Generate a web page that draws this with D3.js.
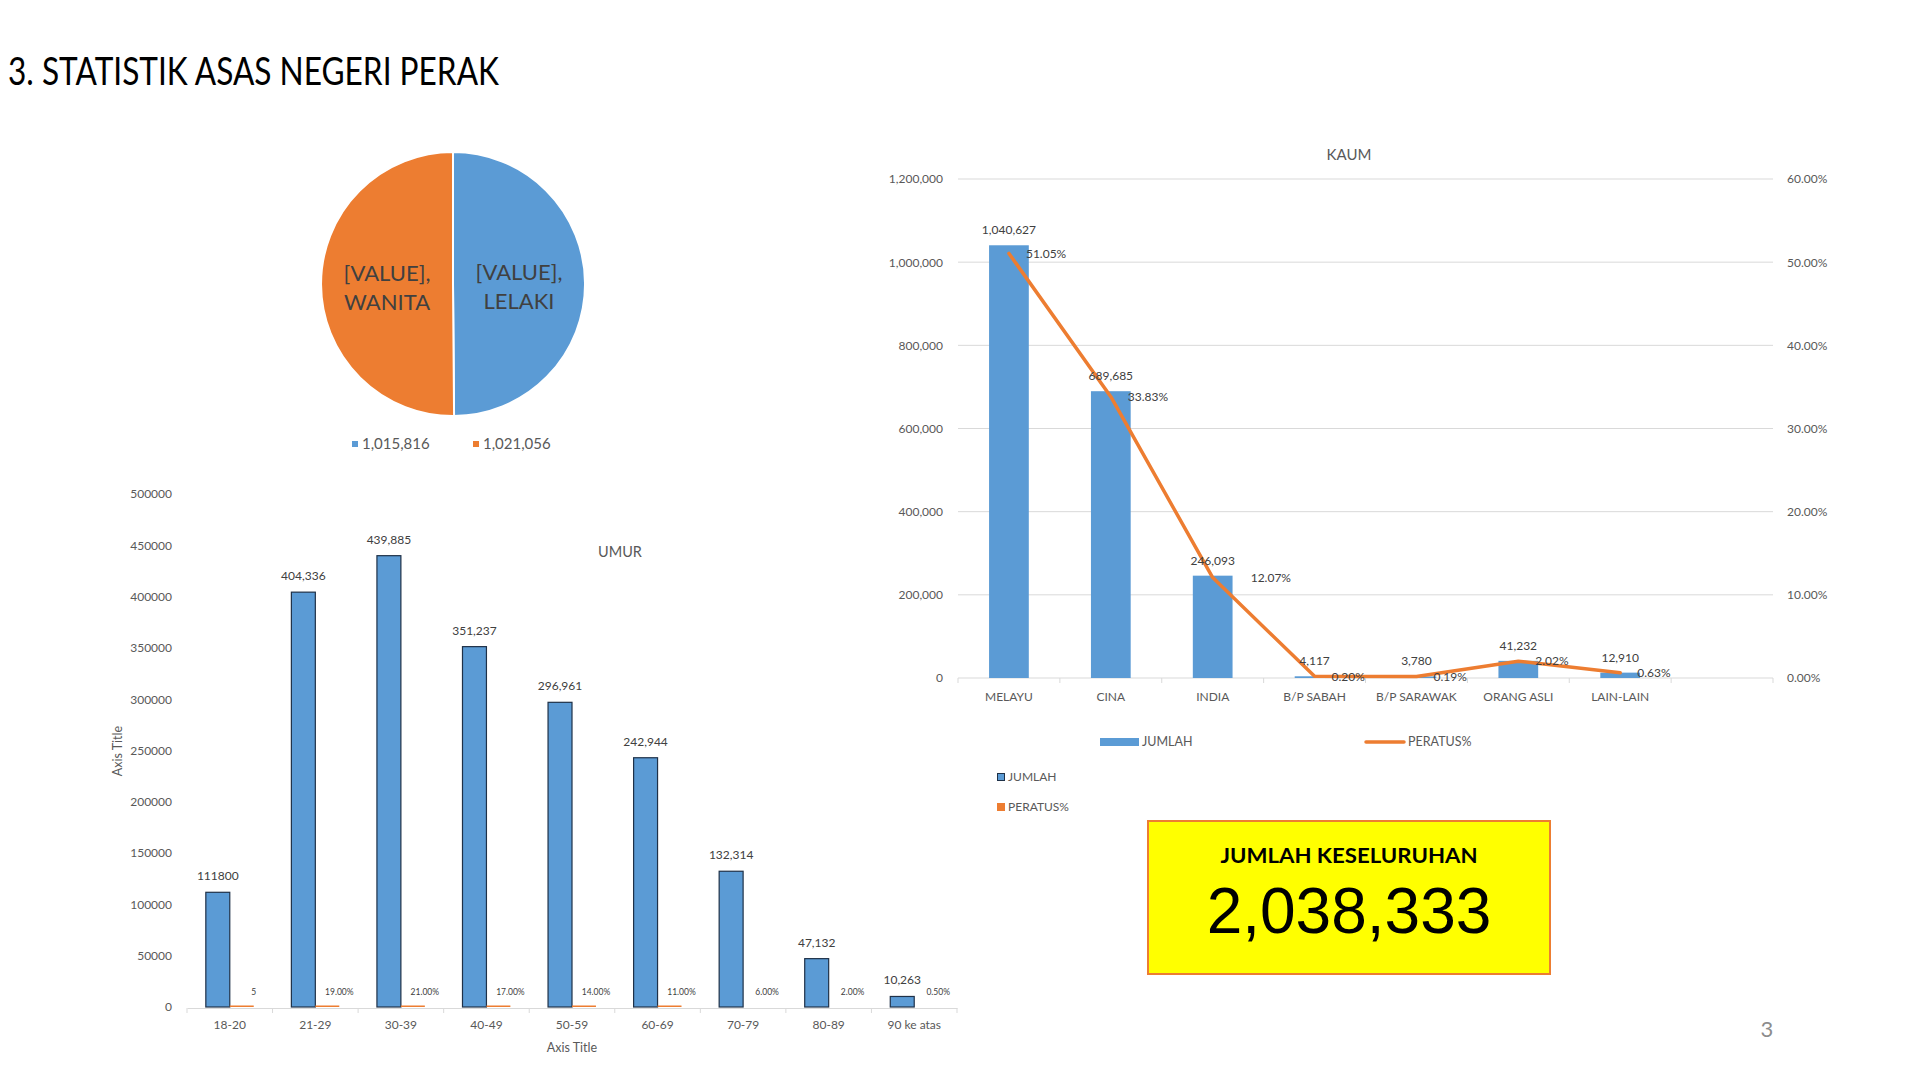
<!DOCTYPE html>
<html><head><meta charset="utf-8">
<script src="https://cdn.jsdelivr.net/npm/d3@7"></script>
<style>
body{margin:0;background:#fff}
text{font-family:Lato,'Open Sans',sans-serif}
</style>
</head><body>
<svg id="c" width="1920" height="1080"></svg>
<script>
// ---------- DATA ----------
const pageTitle = "3. STATISTIK ASAS NEGERI PERAK";
const genderLabels = ["LELAKI", "WANITA"];
const genderValues = [1015816, 1021056];

const ageGroups = ["18-20","21-29","30-39","40-49","50-59","60-69","70-79","80-89","90 ke atas"];
const ageCounts = [111800, 404336, 439885, 351237, 296961, 242944, 132314, 47132, 10263];
const ageCountLabels = ["111800","404,336","439,885","351,237","296,961","242,944","132,314","47,132","10,263"];
const agePct = [5, 0.19, 0.21, 0.17, 0.14, 0.11, 0.06, 0.02, 0.005];
const agePctLabels = ["5","19.00%","21.00%","17.00%","14.00%","11.00%","6.00%","2.00%","0.50%"];
const ageTicks = [0, 50000, 100000, 150000, 200000, 250000, 300000, 350000, 400000, 450000, 500000];

const raceCats = ["MELAYU","CINA","INDIA","B/P SABAH","B/P SARAWAK","ORANG ASLI","LAIN-LAIN",""];
const raceCounts = [1040627, 689685, 246093, 4117, 3780, 41232, 12910];
const racePct = [0.5105, 0.3383, 0.1207, 0.0020, 0.0019, 0.0202, 0.0063];
const raceTicksLeft = [0, 200000, 400000, 600000, 800000, 1000000, 1200000];
const raceTicksRight = [0, 0.1, 0.2, 0.3, 0.4, 0.5, 0.6];
const seriesNames = ["JUMLAH", "PERATUS%"];
const grandTotalLabel = "JUMLAH KESELURUHAN";
const grandTotal = 2038333;

// ---------- STYLE ----------
const BLUE = "#5b9bd5", ORANGE = "#ed7d31", TXT = "#404040", AX = "#595959", GRID = "#d9d9d9";
const svg = d3.select("#c");
svg.append("rect").attr("width",1920).attr("height",1080).attr("fill","#fff");

// Title
svg.append("text").attr("x",8).attr("y",85).attr("font-size",39).attr("fill","#000")
  .attr("textLength",491).attr("lengthAdjust","spacingAndGlyphs").text(pageTitle);

// ---------- PIE ----------
{
  const cx = 453, cy = 284, r = 132;
  const g = svg.append("g").attr("transform",`translate(${cx},${cy})`);
  const pie = d3.pie().sort(null).value(d => d.v);
  const data = pie(genderLabels.map((l,i)=>({l, v: genderValues[i]})));
  const arc = d3.arc().innerRadius(0).outerRadius(r);
  const lab = d3.arc().innerRadius(0).outerRadius(r);
  const cols = [BLUE, ORANGE];
  g.selectAll("path").data(data).join("path").attr("d",arc)
    .attr("fill",(d,i)=>cols[i]).attr("stroke","#fff").attr("stroke-width",2);
  data.forEach(d=>{
    const [x,y] = lab.centroid(d);
    const t = g.append("text").attr("text-anchor","middle").attr("font-size",22).attr("fill",TXT);
    t.append("tspan").attr("x",x).attr("y",y-11).attr("dy","0.35em").text("[VALUE],");
    t.append("tspan").attr("x",x).attr("y",y+18).attr("dy","0.35em").text(d.data.l);
  });
  // legend
  const fmt = d3.format(",");
  const lx = [352, 473];
  genderValues.forEach((v,i)=>{
    svg.append("rect").attr("x",lx[i]).attr("y",441).attr("width",6).attr("height",6).attr("fill",cols[i]);
    svg.append("text").attr("x",lx[i]+10).attr("y",444).attr("dy","0.35em").attr("font-size",15)
      .attr("fill",AX).text(fmt(v));
  });
}

// ---------- UMUR ----------
{
  const x = d3.scaleBand().domain(ageGroups).range([187,957]);
  const y = d3.scaleLinear().domain([0,500000]).range([1007,494]);
  const bw = x.bandwidth()*0.28;
  const g = svg.append("g");
  const ya = g.append("g").attr("transform","translate(187,0)")
    .call(d3.axisLeft(y).tickValues(ageTicks).tickSize(0).tickPadding(15).tickFormat(d3.format("d")));
  ya.select(".domain").remove();
  ya.selectAll("text").attr("font-size",12).attr("fill",AX).style("font-family","Lato");
  const xa = g.append("g").attr("transform","translate(0,1008)")
    .call(d3.axisBottom(x).tickSize(0).tickPadding(12));
  xa.select(".domain").attr("stroke",GRID);
  xa.selectAll("text").attr("font-size",12).attr("fill",AX).style("font-family","Lato");
  const bounds = ageGroups.map(d=>x(d)).concat([x(ageGroups[ageGroups.length-1])+x.bandwidth()]);
  g.selectAll(".tk").data(bounds).join("line").attr("x1",d=>d).attr("x2",d=>d)
    .attr("y1",1008).attr("y2",1013).attr("stroke",GRID);
  g.selectAll(".b").data(ageCounts).join("rect")
    .attr("x",(d,i)=>x(ageGroups[i])+x.bandwidth()/2-bw).attr("width",bw)
    .attr("y",d=>y(d)).attr("height",d=>y(0)-y(d))
    .attr("fill",BLUE).attr("stroke","#1f3148").attr("stroke-width",1.2);
  g.selectAll(".o").data(agePct).join("rect")
    .attr("x",(d,i)=>x(ageGroups[i])+x.bandwidth()/2).attr("width",bw)
    .attr("y",d=>y(d)-1.5).attr("height",d=>Math.max(1.5,y(0)-y(d)))
    .attr("fill",d=> d>=0.1 ? ORANGE : "none");
  g.selectAll(".bl").data(ageCountLabels).join("text")
    .attr("x",(d,i)=>x(ageGroups[i])+x.bandwidth()/2-bw/2).attr("y",(d,i)=>y(ageCounts[i])-12)
    .attr("text-anchor","middle").attr("font-size",12).attr("fill",TXT).text(d=>d);
  g.selectAll(".ol").data(agePctLabels).join("text")
    .attr("x",(d,i)=>x(ageGroups[i])+x.bandwidth()/2+bw/2+12).attr("y",(d,i)=>y(agePct[i])-15)
    .attr("dy","0.35em").attr("text-anchor","middle").attr("font-size",8.5).attr("fill",TXT).text(d=>d);
  g.append("text").attr("x",620).attr("y",552).attr("dy","0.35em").attr("text-anchor","middle")
    .attr("font-size",14.5).attr("fill",AX).text("UMUR");
  g.append("text").attr("x",572).attr("y",1048).attr("dy","0.35em").attr("text-anchor","middle")
    .attr("font-size",12.5).attr("fill",AX).text("Axis Title");
  g.append("text").attr("transform","translate(118,751) rotate(-90)").attr("dy","0.35em")
    .attr("text-anchor","middle").attr("font-size",12.5).attr("fill",AX).text("Axis Title");
}

// ---------- KAUM ----------
{
  const x = d3.scaleBand().domain(raceCats).range([958,1773]);
  const yL = d3.scaleLinear().domain([0,1200000]).range([678,179]);
  const yR = d3.scaleLinear().domain([0,0.6]).range([678,179]);
  const bw = x.bandwidth()*0.39;
  const cxs = i => x(raceCats[i]) + x.bandwidth()/2;
  const g = svg.append("g");
  g.selectAll(".gl").data(raceTicksLeft).join("line")
    .attr("x1",958).attr("x2",1773).attr("y1",d=>yL(d)).attr("y2",d=>yL(d)).attr("stroke",GRID);
  const bounds = raceCats.map(d=>x(d)).concat([1773]);
  g.selectAll(".tk").data(bounds).join("line").attr("x1",d=>d).attr("x2",d=>d)
    .attr("y1",678).attr("y2",683).attr("stroke",GRID);
  const la = g.append("g").attr("transform","translate(958,0)")
    .call(d3.axisLeft(yL).tickValues(raceTicksLeft).tickSize(0).tickPadding(15).tickFormat(d3.format(",")));
  la.select(".domain").remove();
  la.selectAll("text").attr("font-size",12).attr("fill",AX).style("font-family","Lato");
  const ra = g.append("g").attr("transform","translate(1773,0)")
    .call(d3.axisRight(yR).tickValues(raceTicksRight).tickSize(0).tickPadding(14).tickFormat(d3.format(".2%")));
  ra.select(".domain").remove();
  ra.selectAll("text").attr("font-size",12).attr("fill",AX).style("font-family","Lato");
  const xa = g.append("g").attr("transform","translate(0,678)")
    .call(d3.axisBottom(x).tickSize(0).tickPadding(14));
  xa.select(".domain").remove();
  xa.selectAll("text").attr("font-size",12).attr("fill",AX).style("font-family","Lato");
  g.selectAll(".b").data(raceCounts).join("rect")
    .attr("x",(d,i)=>cxs(i)-bw/2).attr("width",bw)
    .attr("y",d=>yL(d)).attr("height",d=>yL(0)-yL(d)).attr("fill",BLUE);
  const line = d3.line().x((d,i)=>cxs(i)).y(d=>yR(d));
  g.append("path").datum(racePct).attr("d",line).attr("fill","none")
    .attr("stroke",ORANGE).attr("stroke-width",3.5).attr("stroke-linejoin","round").attr("stroke-linecap","round");
  const f = d3.format(",");
  g.selectAll(".bl").data(raceCounts).join("text")
    .attr("x",(d,i)=>cxs(i)).attr("y",d=>yL(d)-11).attr("text-anchor","middle")
    .attr("font-size",12).attr("fill",TXT).text(d=>f(d));
  const pf = d3.format(".2%");
  const pdx = {"INDIA":38};
  g.selectAll(".pl").data(racePct).join("text")
    .attr("x",(d,i)=>cxs(i)+(pdx[raceCats[i]]||17)).attr("y",d=>yR(d)).attr("dy","0.35em")
    .attr("font-size",12).attr("fill",TXT).text(d=>pf(d));
  g.append("text").attr("x",1349).attr("y",155).attr("dy","0.35em").attr("text-anchor","middle")
    .attr("font-size",15).attr("fill",AX).text("KAUM");
  g.append("rect").attr("x",1100).attr("y",738).attr("width",39).attr("height",8).attr("fill",BLUE);
  g.append("text").attr("x",1142).attr("y",742).attr("dy","0.35em").attr("font-size",12.5).attr("fill",AX).text(seriesNames[0]);
  g.append("line").attr("x1",1366).attr("x2",1404).attr("y1",742).attr("y2",742)
    .attr("stroke",ORANGE).attr("stroke-width",3.5).attr("stroke-linecap","round");
  g.append("text").attr("x",1408).attr("y",742).attr("dy","0.35em").attr("font-size",12.5).attr("fill",AX).text(seriesNames[1]);
  g.append("rect").attr("x",997.5).attr("y",773.5).attr("width",7).attr("height",7).attr("fill",BLUE).attr("stroke","#1f3148");
  g.append("text").attr("x",1008).attr("y",777).attr("dy","0.35em").attr("font-size",12).attr("fill",AX).text(seriesNames[0]);
  g.append("rect").attr("x",997).attr("y",803).attr("width",8).attr("height",8).attr("fill",ORANGE);
  g.append("text").attr("x",1008).attr("y",807).attr("dy","0.35em").attr("font-size",12).attr("fill",AX).text(seriesNames[1]);
}

// ---------- TOTAL BOX ----------
svg.append("rect").attr("x",1148).attr("y",821).attr("width",402).attr("height",153)
  .attr("fill","#ffff00").attr("stroke",ORANGE).attr("stroke-width",2);
svg.append("text").attr("x",1349).attr("y",863).attr("text-anchor","middle").attr("font-size",20)
  .attr("font-weight","bold").attr("fill","#000").attr("textLength",257).attr("lengthAdjust","spacingAndGlyphs")
  .text(grandTotalLabel);
svg.append("text").attr("x",1349).attr("y",933).attr("text-anchor","middle").attr("font-size",64)
  .style("font-family","'Liberation Sans',Arial,sans-serif").attr("fill","#000").text(d3.format(",")(grandTotal));

svg.append("text").attr("x",1767).attr("y",1037).attr("text-anchor","middle").attr("font-size",22)
  .attr("fill","#8c8c8c").text("3");
</script>
</body></html>
